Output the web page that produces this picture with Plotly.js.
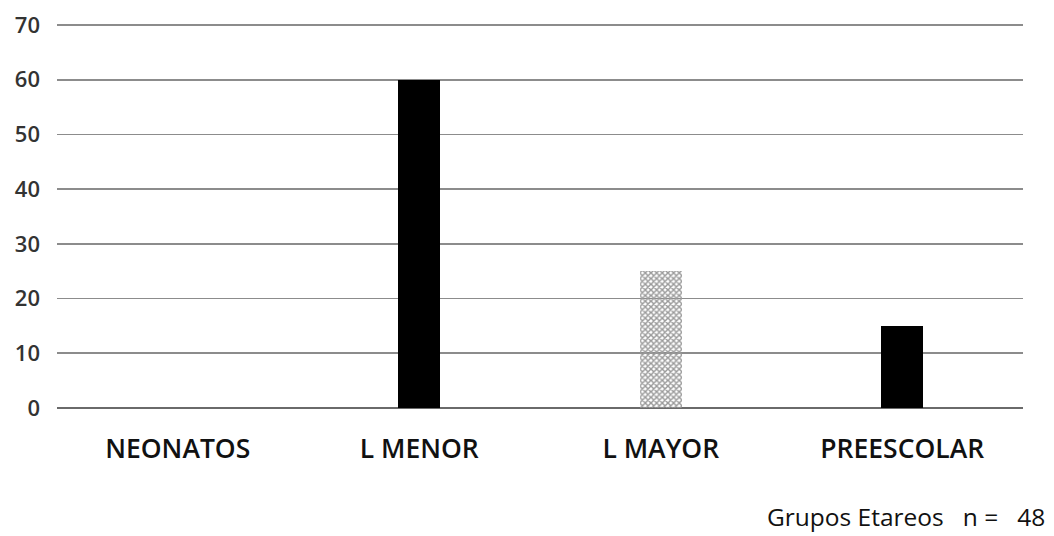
<!DOCTYPE html>
<html><head><meta charset="utf-8">
<script src="https://cdn.plot.ly/plotly-3.0.1.min.js"></script>
<style>html,body{margin:0;padding:0;background:#fff}#chart{width:1054px;height:536px}</style>
</head><body><div id="chart"></div>
<script>
const categories = ['NEONATOS', 'L MENOR', 'L MAYOR', 'PREESCOLAR'];
const values = [0, 60, 25, 15];
const barColors = ['#000000', '#000000', '#9a9a9a', '#000000'];
const barPatterns = ['', '', 'x', ''];
const yTicks = [0, 10, 20, 30, 40, 50, 60, 70];
const xTitle = 'Grupos Etareos&nbsp;&nbsp;&nbsp;n =&nbsp;&nbsp;&nbsp;48';

const font = '"Open Sans", Lato, sans-serif';
Plotly.newPlot('chart', [{
  type: 'bar', x: categories, y: values, width: 0.175,
  marker: {color: barColors, line: {width: 0},
    pattern: {shape: barPatterns, fgcolor: '#4a4a4a', bgcolor: '#9c9c9c', size: 4, solidity: 0.6}},
  hoverinfo: 'none'
}], {
  width: 1054, height: 536,
  margin: {l: 57, r: 31, t: 24, b: 128},
  paper_bgcolor: '#fff', plot_bgcolor: '#fff',
  showlegend: false, bargap: 0,
  xaxis: {type: 'category', showgrid: false, zeroline: false, showline: false, ticks: '',
    ticklabelstandoff: 22,
    tickfont: {family: font, size: 26.5, color: '#111', weight: 600}},
  yaxis: {range: [0, 70.2], tickvals: yTicks, showgrid: true, gridcolor: '#8c8c8c', gridwidth: 1.6,
    zeroline: true, zerolinecolor: '#6a6a6a', zerolinewidth: 1.8, showline: false, ticks: '',
    ticklabelstandoff: 16,
    tickfont: {family: font, size: 22, color: '#333', weight: 600}},
  annotations: [{xref: 'paper', yref: 'paper', x: 1.0, xshift: 24, y: -0.282, xanchor: 'right', yanchor: 'middle',
    text: xTitle, showarrow: false, font: {family: font, size: 24.5, color: '#111', weight: 500}}]
}, {displayModeBar: false, staticPlot: true});
</script></body></html>
